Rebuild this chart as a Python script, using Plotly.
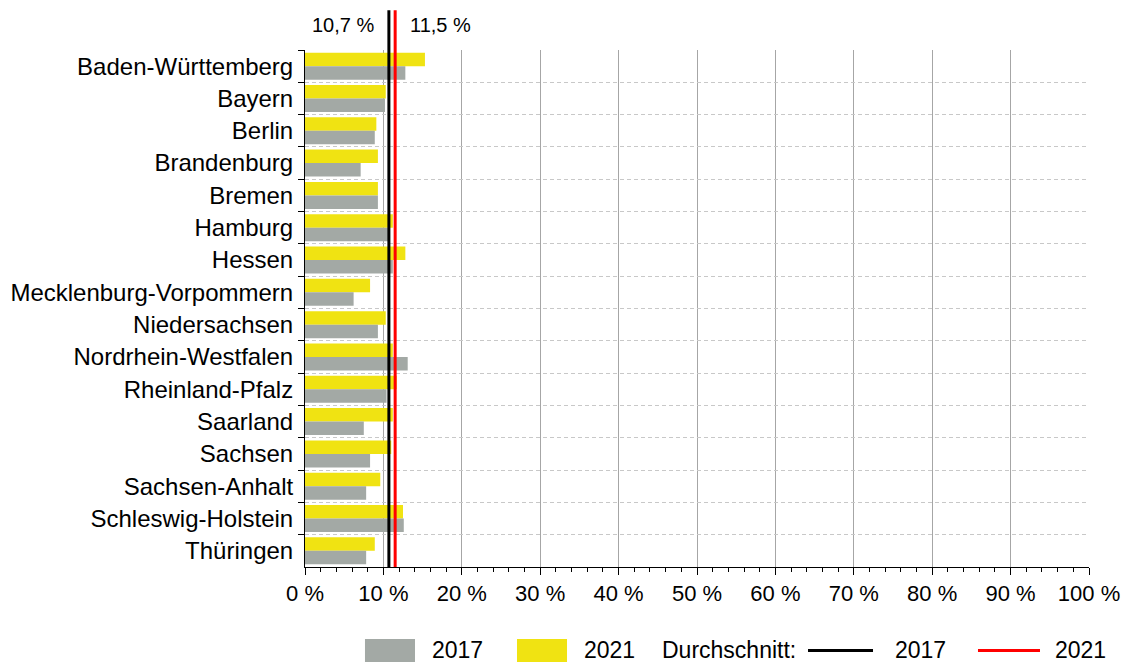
import plotly.graph_objects as go

# Daten
laender = ["Baden-Württemberg", "Bayern", "Berlin", "Brandenburg", "Bremen", "Hamburg",
           "Hessen", "Mecklenburg-Vorpommern", "Niedersachsen", "Nordrhein-Westfalen",
           "Rheinland-Pfalz", "Saarland", "Sachsen", "Sachsen-Anhalt", "Schleswig-Holstein",
           "Thüringen"]
werte_2017 = [12.8, 10.2, 8.9, 7.1, 9.3, 10.8, 11.2, 6.2, 9.3, 13.1, 10.4, 7.5, 8.3, 7.8, 12.6, 7.8]
werte_2021 = [15.3, 10.3, 9.1, 9.3, 9.3, 11.2, 12.8, 8.3, 10.3, 11.2, 11.7, 11.2, 11.0, 9.6, 12.5, 8.9]
schnitt_2017 = 10.7
schnitt_2021 = 11.5
x_ticks = list(range(0, 101, 10))
x_labels = [f"{t} %" for t in x_ticks]

GRAU = "#a3a9a5"
GELB = "#f0e312"
FONT = "Liberation Sans, Arial, sans-serif"

fig = go.Figure()
fig.add_trace(go.Bar(y=laender, x=werte_2021, orientation="h", name="2021",
                     marker=dict(color=GELB, line=dict(width=0)), showlegend=False))
fig.add_trace(go.Bar(y=laender, x=werte_2017, orientation="h", name="2017",
                     marker=dict(color=GRAU, line=dict(width=0)), showlegend=False))

# Durchschnittslinien
for wert, farbe, anker, versatz in [(schnitt_2017, "black", "right", -13),
                                     (schnitt_2021, "#ff0000", "left", 13)]:
    fig.add_shape(type="line", xref="x", yref="paper", x0=wert, x1=wert, y0=0, y1=1.077,
                  line=dict(color=farbe, width=3), layer="above")
    fig.add_annotation(x=wert, xref="x", y=1.048, yref="paper", text=f"{wert:.1f} %".replace(".", ","),
                       showarrow=False, xanchor=anker, xshift=versatz, yanchor="middle",
                       font=dict(size=20, color="black"))

# Legende (manuell)
leg_y0, leg_y1, leg_ym = -0.1838, -0.1393, -0.1615
fig.add_shape(type="rect", xref="paper", yref="paper", x0=0.0765, x1=0.1403, y0=leg_y0, y1=leg_y1,
              fillcolor=GRAU, line=dict(width=0))
fig.add_shape(type="rect", xref="paper", yref="paper", x0=0.2704, x1=0.3342, y0=leg_y0, y1=leg_y1,
              fillcolor=GELB, line=dict(width=0))
fig.add_shape(type="line", xref="paper", yref="paper", x0=0.6416, x1=0.7245, y0=leg_ym, y1=leg_ym,
              line=dict(color="black", width=3))
fig.add_shape(type="line", xref="paper", yref="paper", x0=0.8584, x1=0.9375, y0=leg_ym, y1=leg_ym,
              line=dict(color="#ff0000", width=3))
for x, txt in [(0.1594, "2017"), (0.3533, "2021"), (0.4528, "Durchschnitt:"),
               (0.75, "2017"), (0.954, "2021")]:
    fig.add_annotation(x=x, y=leg_ym, xref="paper", yref="paper", text=txt, showarrow=False,
                       xanchor="left", yanchor="middle", font=dict(size=23, color="black"))

fig.update_layout(
    width=1126, height=663,
    margin=dict(l=305, r=37, t=50, b=96),
    paper_bgcolor="white", plot_bgcolor="white",
    font=dict(family=FONT, size=23, color="black"),
    barmode="group", bargap=0.165, bargroupgap=0,
    xaxis=dict(range=[0, 100], tickvals=x_ticks, ticktext=x_labels, automargin=False,
               showgrid=True, gridcolor="#a6a6a6", gridwidth=1,
               showline=True, linecolor="black", linewidth=1,
               ticks="outside", ticklen=7, tickcolor="black",
               minor=dict(dtick=2, ticks="outside", ticklen=4, tickcolor="black", showgrid=False),
               zeroline=False, tickfont=dict(size=22)),
    yaxis=dict(autorange="reversed", tickson="boundaries", automargin=False,
               showgrid=True, gridcolor="#c8c8c8", griddash="4px,3px", gridwidth=1,
               showline=True, linecolor="black", linewidth=1,
               ticks="outside", ticklen=6, tickcolor="black", ticklabelstandoff=6,
               tickfont=dict(size=24)),
)

# Seitenrand entfernen, damit die Grafik bei (0, 0) beginnt
fig.write_html("out.html", config={"displayModeBar": False},
               post_script="document.body.style.margin='0';document.body.style.overflow='hidden';")
